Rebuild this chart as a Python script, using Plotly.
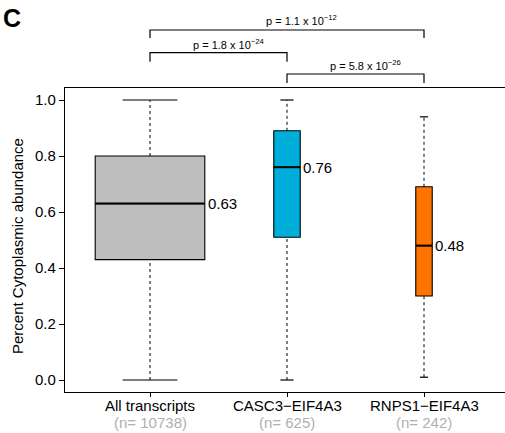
import plotly.graph_objects as go
import math

# ---- data ----
categories = ["All transcripts", "CASC3\u2212EIF4A3", "RNPS1\u2212EIF4A3"]
n_counts = [10738, 625, 242]
mins = [0.0, 0.0, 0.01]
q1s = [0.43, 0.51, 0.30]
medians = [0.63, 0.76, 0.48]
q3s = [0.80, 0.89, 0.69]
maxs = [1.0, 1.0, 0.94]
comparisons = [(0, 2, "p = 1.1 x 10<sup>\u221212</sup>"),
               (0, 1, "p = 1.8 x 10<sup>\u221224</sup>"),
               (1, 2, "p = 5.8 x 10<sup>\u221226</sup>")]

# ---- style ----
colors = ["#BEBEBE", "#00AEDB", "#FF7400"]
FONT = "Liberation Sans, Arial, Helvetica, sans-serif"
positions = [1, 2, 3]
boxwex = 0.8
maxsq = max(math.sqrt(n) for n in n_counts)
widths = [boxwex * math.sqrt(n) / maxsq for n in n_counts]

W, H = 505, 433
ML, MR, MT, MB = 65, 0, 88, 41
plot_h = H - MT - MB

def py(pix):  # pixel row -> paper y
    return (H - MB - pix) / plot_h

fig = go.Figure()
for i in range(3):
    p = positions[i]
    w = widths[i]
    fig.add_trace(go.Box(
        x=[p], q1=[q1s[i]], median=[medians[i]], q3=[q3s[i]],
        lowerfence=[q1s[i]], upperfence=[q3s[i]],
        width=w, whiskerwidth=0, fillcolor=colors[i],
        line=dict(color="black", width=1.1), boxpoints=False,
        showlegend=False, hoverinfo="skip"))
    # dashed whiskers
    for a, b in [(mins[i], q1s[i]), (q3s[i], maxs[i])]:
        fig.add_trace(go.Scatter(x=[p, p], y=[a, b], mode="lines",
                                 line=dict(color="black", width=1, dash="3px,3px"),
                                 showlegend=False, hoverinfo="skip"))
    # caps
    for v in [mins[i], maxs[i]]:
        fig.add_trace(go.Scatter(x=[p - w / 4, p + w / 4], y=[v, v], mode="lines",
                                 line=dict(color="black", width=1.2),
                                 showlegend=False, hoverinfo="skip"))
    # thicker median
    fig.add_trace(go.Scatter(x=[p - w / 2, p + w / 2], y=[medians[i], medians[i]],
                             mode="lines", line=dict(color="black", width=2),
                             showlegend=False, hoverinfo="skip"))
    fig.add_annotation(x=p + w / 2, y=medians[i], xref="x", yref="y",
                       text=f"{medians[i]:.2f}", showarrow=False,
                       xanchor="left", yanchor="middle", xshift=1,
                       font=dict(size=15, color="black", family=FONT))
    # category label and count below the axis
    fig.add_annotation(x=p, y=py(405), xref="x", yref="paper", text=categories[i],
                       showarrow=False, xanchor="center", yanchor="middle",
                       font=dict(size=15, color="black", family=FONT))
    fig.add_annotation(x=p, y=py(422), xref="x", yref="paper", text=f"(n= {n_counts[i]})",
                       showarrow=False, xanchor="center", yanchor="middle",
                       font=dict(size=15, color="#B0B0B0", family=FONT))

# significance brackets
bracket_rows = [(30, 38, 19.5, 14), (52.7, 61.7, 44, 10), (74, 83, 65.5, 10)]
for (a, b, txt), (yh, yt, ytxt, xs) in zip(comparisons, bracket_rows):
    xa, xb = positions[a], positions[b]
    fig.add_shape(type="path", xref="x", yref="paper",
                  path=f"M {xa},{py(yt)} L {xa},{py(yh)} L {xb},{py(yh)} L {xb},{py(yt)}",
                  line=dict(color="black", width=1.2))
    fig.add_annotation(x=(xa + xb) / 2, y=py(ytxt), xref="x", yref="paper",
                       text=txt, showarrow=False, xanchor="center", yanchor="middle",
                       xshift=xs, font=dict(size=11, color="black", family=FONT))

# y title
fig.add_annotation(x=0, y=py(246), xref="paper", yref="paper",
                   text="Percent Cytoplasmic abundance", textangle=-90,
                   showarrow=False, xanchor="center", yanchor="middle", xshift=-48,
                   font=dict(size=15, color="black", family=FONT))
# panel letter
fig.add_annotation(x=0, y=py(18), xref="paper", yref="paper", text="<b>C</b>",
                   showarrow=False, xanchor="left", yanchor="middle", xshift=-64,
                   font=dict(size=25, color="black", family=FONT))

px_per_unit = 137.0
x0 = positions[0] - (150 - ML) / px_per_unit
x1 = x0 + (W - ML - MR) / px_per_unit
y_pad = 12 / 280

fig.update_layout(
    width=W, height=H, margin=dict(l=ML, r=MR, t=MT, b=MB, pad=0, autoexpand=False),
    paper_bgcolor="white", plot_bgcolor="white", boxmode="overlay",
    font=dict(family=FONT, size=15, color="black"),
    xaxis=dict(range=[x0, x1], tickvals=positions, ticktext=["", "", ""],
               showline=True, linecolor="black", linewidth=1.2, mirror=True,
               ticks="outside", ticklen=4, tickcolor="black", tickwidth=1,
               showgrid=False, zeroline=False, automargin=False),
    yaxis=dict(range=[-y_pad, 1 + y_pad], tickvals=[0, 0.2, 0.4, 0.6, 0.8, 1.0],
               tickformat=".1f", showline=True, linecolor="black", linewidth=1.2,
               ticks="outside", ticklen=5, tickcolor="black", tickwidth=1,
               showgrid=False, zeroline=False, automargin=False,
               tickfont=dict(size=15, family=FONT, color="black")),
)

fig.write_html("out.html")
